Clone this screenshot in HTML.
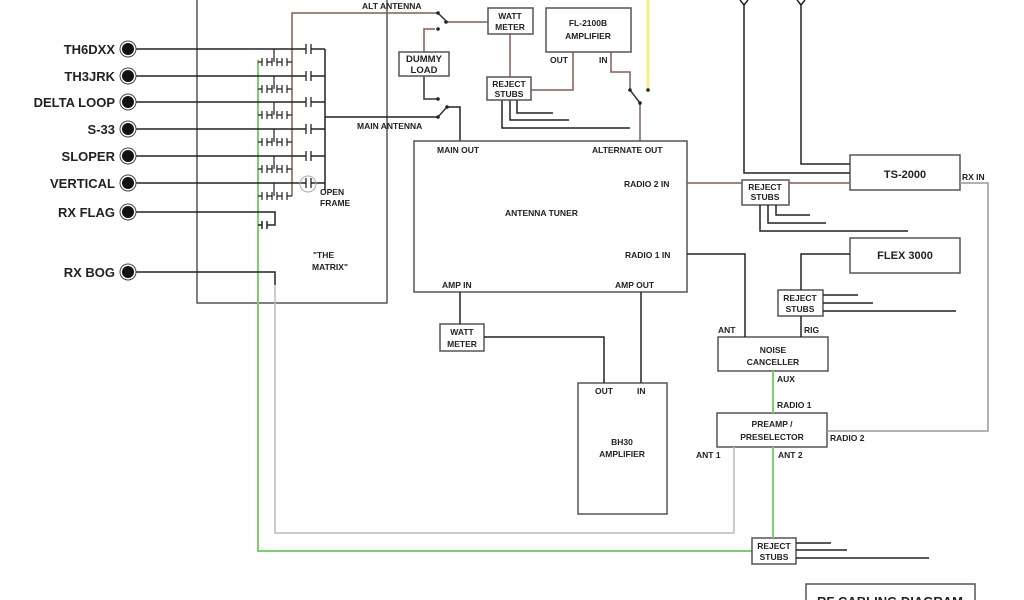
<!DOCTYPE html>
<html><head><meta charset="utf-8"><style>
html,body{margin:0;padding:0;background:#fff;width:1024px;height:600px;overflow:hidden}
svg{display:block}
text{font-family:"Liberation Sans",sans-serif;font-weight:bold;fill:#222}
</style></head><body>
<svg width="1024" height="600" viewBox="0 0 1024 600" xmlns="http://www.w3.org/2000/svg">
<g fill="none" stroke-width="1.5">
<polyline points="197,0 197,303 387,303 387,0" stroke="#555"/>
<polyline points="258,60 258,551 752,551" stroke="#7ccf6a" stroke-width="2"/>
<polyline points="292,196 292,13 438,13" stroke="#8a5a52"/>
<line x1="438" y1="13" x2="447" y2="22" stroke="#333"/>
<polyline points="447,22 488,22" stroke="#8a5a52"/>
<line x1="325" y1="49" x2="325" y2="190" stroke="#222"/>
<polyline points="325,117 438,117" stroke="#222"/>
<line x1="438" y1="117" x2="447" y2="107" stroke="#333"/>
<polyline points="447,107 460,107 460,141" stroke="#222"/>
<polyline points="435,29 424,29 424,52" stroke="#8a5a52"/>
<polyline points="424,76 424,99 438,99" stroke="#333"/>
<line x1="510" y1="34" x2="510" y2="77" stroke="#8a5a52"/>
<polyline points="573,52 573,90 531,90" stroke="#8a5a52"/>
<polyline points="611,52 611,72 630,72 630,90" stroke="#8a5a52"/>
<line x1="630" y1="90" x2="640" y2="103" stroke="#333"/>
<polyline points="640,103 640,141" stroke="#8a5a52"/>
<line x1="648" y1="0" x2="648" y2="90" stroke="#f3ef8a" stroke-width="3"/>
<polyline points="502,100 502,128 630,128" stroke="#222"/>
<polyline points="510,100 510,120 569,120" stroke="#222"/>
<polyline points="517,100 517,113 553,113" stroke="#222"/>
<g stroke="#555">
<rect x="488" y="8" width="45" height="26"/>
<rect x="546" y="8" width="85" height="44"/>
<rect x="399" y="52" width="50" height="24"/>
<rect x="487" y="77" width="44" height="23"/>
<rect x="414" y="141" width="273" height="151"/>
<rect x="742" y="180" width="47" height="25"/>
<rect x="850" y="155" width="110" height="35"/>
<rect x="850" y="238" width="110" height="35"/>
<rect x="778" y="290" width="45" height="26"/>
<rect x="718" y="337" width="110" height="34"/>
<rect x="717" y="413" width="110" height="34"/>
<rect x="440" y="324" width="44" height="27"/>
<rect x="578" y="383" width="89" height="131"/>
<rect x="752" y="538" width="44" height="26"/>
<rect x="806" y="584" width="169" height="30"/>
</g>
<polyline points="687,183 742,183" stroke="#8a5a52"/>
<polyline points="789,183 850,183" stroke="#8a5a52"/>
<polyline points="744,4 744,173 850,173" stroke="#222"/>
<polyline points="801,4 801,164 850,164" stroke="#222"/>
<path d="M740,0 L744,5 L748,0 M797,0 L801,5 L805,0" stroke="#222"/>
<polyline points="760,205 760,231 908,231" stroke="#222"/>
<polyline points="768,205 768,223 826,223" stroke="#222"/>
<polyline points="776,205 776,215 810,215" stroke="#222"/>
<polyline points="960,183 988,183 988,431 827,431" stroke="#999"/>
<polyline points="687,254 745,254 745,337" stroke="#222"/>
<polyline points="850,254 801,254 801,290" stroke="#222"/>
<line x1="801" y1="316" x2="801" y2="337" stroke="#222"/>
<line x1="823" y1="295" x2="858" y2="295" stroke="#222"/>
<line x1="823" y1="303" x2="873" y2="303" stroke="#222"/>
<line x1="823" y1="311" x2="956" y2="311" stroke="#222"/>
<line x1="773" y1="371" x2="773" y2="413" stroke="#7ccf6a" stroke-width="2"/>
<line x1="773" y1="447" x2="773" y2="538" stroke="#7ccf6a" stroke-width="2"/>
<polyline points="734,447 734,533 275,533 275,285" stroke="#bbb"/>
<line x1="796" y1="543" x2="831" y2="543" stroke="#222"/>
<line x1="796" y1="550" x2="847" y2="550" stroke="#222"/>
<line x1="796" y1="558" x2="929" y2="558" stroke="#222"/>
<line x1="460" y1="292" x2="460" y2="324" stroke="#222"/>
<polyline points="484,337 604,337 604,383" stroke="#222"/>
<line x1="641" y1="292" x2="641" y2="383" stroke="#222"/>
<g stroke="#222">
<line x1="135" y1="49" x2="306" y2="49"/><line x1="311" y1="49" x2="325" y2="49"/>
<line x1="135" y1="76" x2="306" y2="76"/><line x1="311" y1="76" x2="325" y2="76"/>
<line x1="135" y1="102" x2="306" y2="102"/><line x1="311" y1="102" x2="325" y2="102"/>
<line x1="135" y1="129" x2="306" y2="129"/><line x1="311" y1="129" x2="325" y2="129"/>
<line x1="135" y1="156" x2="306" y2="156"/><line x1="311" y1="156" x2="325" y2="156"/>
<line x1="135" y1="183" x2="306" y2="183"/><line x1="311" y1="183" x2="325" y2="183"/>
<polyline points="135,212 275,212 275,225 267,225"/>
<polyline points="135,272 275,272 275,285"/>
<path d="M262,221 v8 M267,221 v8 M258,225 h4"/>
</g>
<g stroke="#222" stroke-width="1.3">
<path d="M306,44v10M311,44v10 M306,71v10M311,71v10 M306,97v10M311,97v10 M306,124v10M311,124v10 M306,151v10M311,151v10 M306,178v10M311,178v10"/>
</g>
<circle cx="308" cy="184" r="8" stroke="#aaa" stroke-width="1"/>
<g stroke="#222" stroke-width="1.2">
<path id="sub" d="M258,62h4M262,58v8M267,58v8M267,62h5M272,58v8M277,58v8M277,62h5M282,58v8M287,58v8M287,62h5M274,49v13"/>
<use href="#sub" y="27"/><use href="#sub" y="53"/><use href="#sub" y="80"/><use href="#sub" y="107"/><use href="#sub" y="134"/>
</g>
</g>
<g>
<g fill="#fff" stroke="#444" stroke-width="1">
<circle cx="128" cy="49" r="8"/><circle cx="128" cy="76" r="8"/><circle cx="128" cy="102" r="8"/><circle cx="128" cy="129" r="8"/><circle cx="128" cy="156" r="8"/><circle cx="128" cy="183" r="8"/><circle cx="128" cy="212" r="8"/><circle cx="128" cy="272" r="8"/>
</g>
<g fill="#111">
<circle cx="128" cy="49" r="6"/><circle cx="128" cy="76" r="6"/><circle cx="128" cy="102" r="6"/><circle cx="128" cy="129" r="6"/><circle cx="128" cy="156" r="6"/><circle cx="128" cy="183" r="6"/><circle cx="128" cy="212" r="6"/><circle cx="128" cy="272" r="6"/>
</g>
<g fill="#222">
<circle cx="446" cy="22" r="1.8"/><circle cx="438" cy="13" r="1.8"/><circle cx="438" cy="117" r="1.8"/><circle cx="447" cy="107" r="1.8"/><circle cx="630" cy="90" r="1.8"/><circle cx="648" cy="90" r="1.8"/><circle cx="640" cy="103" r="1.8"/><circle cx="438" cy="29" r="1.8"/><circle cx="438" cy="99" r="1.8"/>
</g>
</g>
<g font-size="13" text-anchor="end">
<text x="115" y="54">TH6DXX</text><text x="115" y="81">TH3JRK</text><text x="115" y="107">DELTA LOOP</text><text x="115" y="134">S-33</text><text x="115" y="161">SLOPER</text><text x="115" y="188">VERTICAL</text><text x="115" y="217">RX FLAG</text><text x="115" y="277">RX BOG</text>
</g>
<g font-size="8.5">
<text x="320" y="195">OPEN</text><text x="320" y="206">FRAME</text>
<text x="313" y="258">"THE</text><text x="312" y="270">MATRIX"</text>
<text x="362" y="9">ALT ANTENNA</text>
<text x="357" y="129">MAIN ANTENNA</text>
<text x="437" y="153">MAIN OUT</text>
<text x="592" y="153">ALTERNATE OUT</text>
<text x="624" y="187">RADIO 2 IN</text>
<text x="505" y="216">ANTENNA TUNER</text>
<text x="625" y="258">RADIO 1 IN</text>
<text x="442" y="288">AMP IN</text>
<text x="615" y="288">AMP OUT</text>
<text x="595" y="394">OUT</text><text x="637" y="394">IN</text>
<text x="550" y="63">OUT</text><text x="599" y="63">IN</text>
<text x="718" y="333">ANT</text><text x="804" y="333">RIG</text>
<text x="777" y="382">AUX</text>
<text x="777" y="408">RADIO 1</text>
<text x="830" y="441">RADIO 2</text>
<text x="696" y="458">ANT 1</text><text x="778" y="458">ANT 2</text>
<text x="962" y="180">RX IN</text>
</g>
<g font-size="8.5" text-anchor="middle">
<text x="510" y="19">WATT</text><text x="510" y="30">METER</text>
<text x="588" y="26">FL-2100B</text><text x="588" y="39">AMPLIFIER</text>
<text x="424" y="62" font-size="9.5">DUMMY</text><text x="424" y="73" font-size="9.5">LOAD</text>
<text x="509" y="87">REJECT</text><text x="509" y="97">STUBS</text>
<text x="765" y="190">REJECT</text><text x="765" y="200">STUBS</text>
<text x="800" y="301">REJECT</text><text x="800" y="312">STUBS</text>
<text x="774" y="549">REJECT</text><text x="774" y="560">STUBS</text>
<text x="462" y="335">WATT</text><text x="462" y="347">METER</text>
<text x="622" y="445">BH30</text><text x="622" y="457">AMPLIFIER</text>
<text x="773" y="353">NOISE</text><text x="773" y="365">CANCELLER</text>
<text x="772" y="427">PREAMP /</text><text x="772" y="440">PRESELECTOR</text>
<text x="905" y="178" font-size="11">TS-2000</text>
<text x="905" y="259" font-size="11">FLEX 3000</text>
<text x="890" y="606" font-size="13">RF CABLING DIAGRAM</text>
</g>
</svg>
</body></html>
